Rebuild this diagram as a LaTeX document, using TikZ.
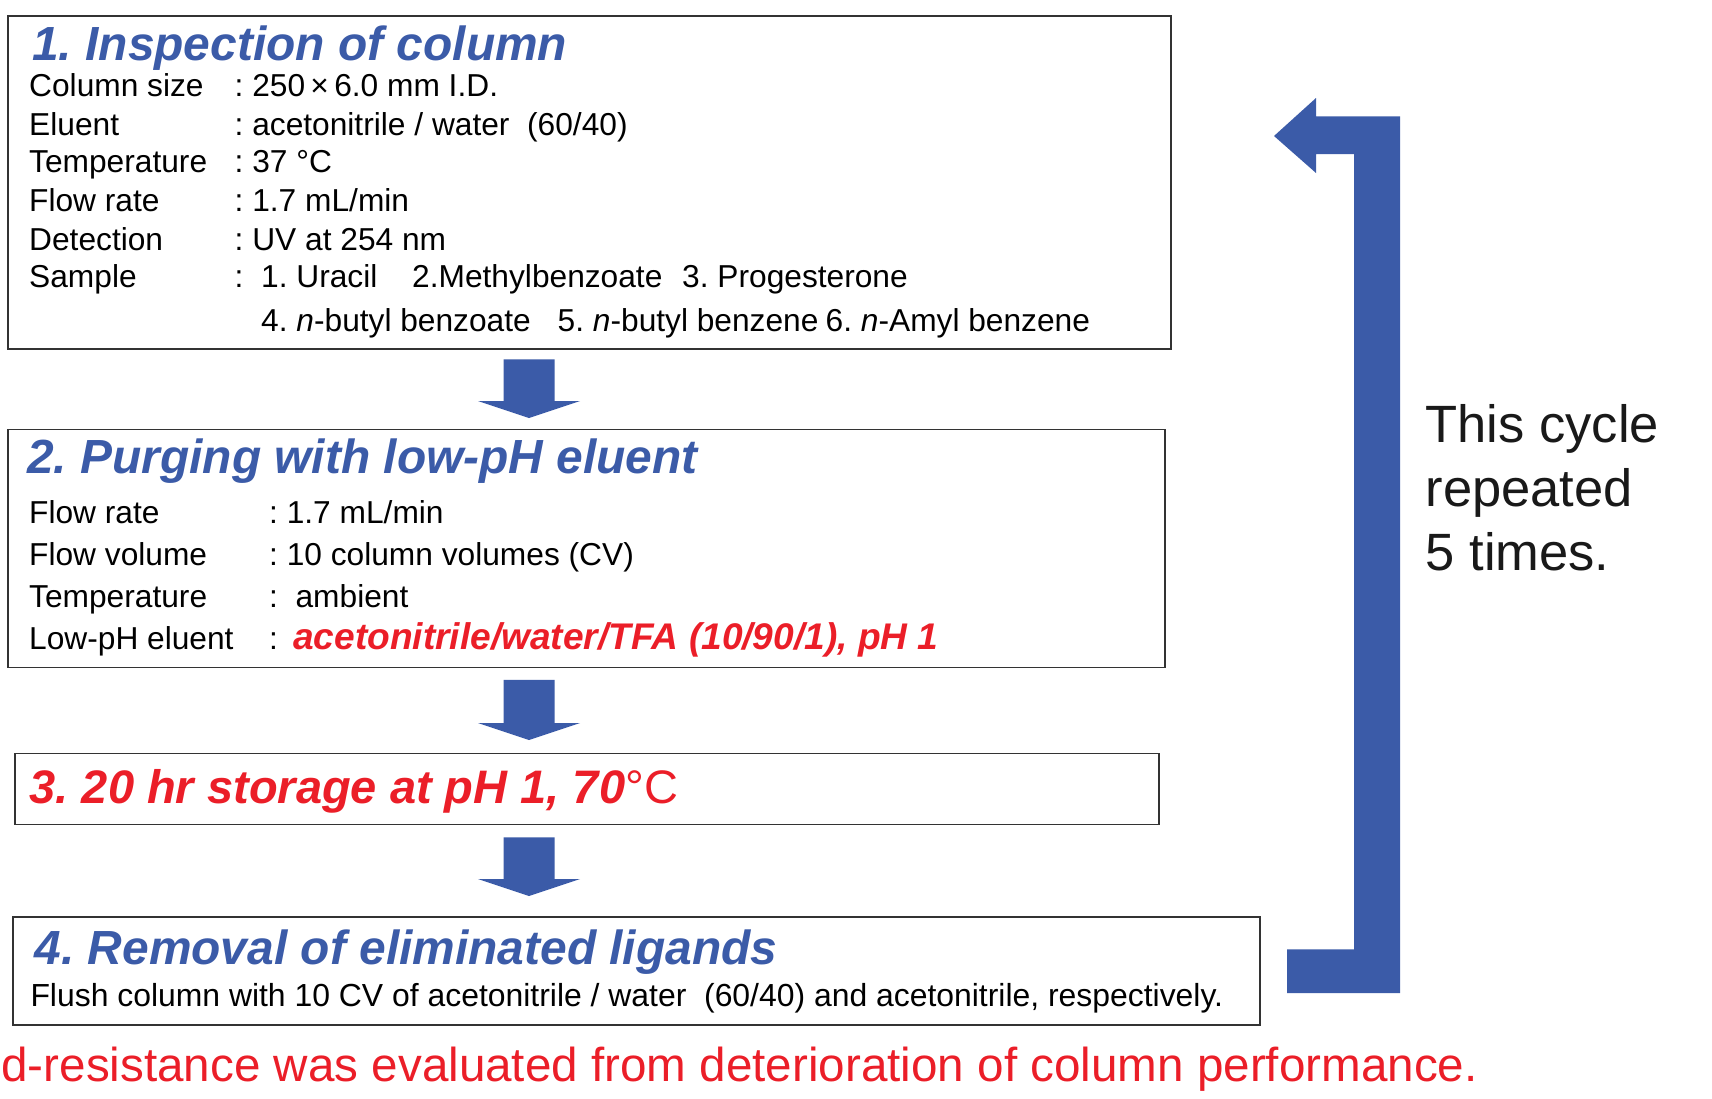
\documentclass[tikz,border=0pt]{standalone}
\usepackage{fontspec}
\setmainfont{Liberation Sans}
\usetikzlibrary{calc}
\frenchspacing
\definecolor{stepblue}{RGB}{59,91,168}
\definecolor{stepred}{RGB}{235,30,40}
\tikzset{
    stepbox/.style={draw=black!80, line width=1.8pt, anchor=north west, inner sep=0pt},
    steptitle/.style={anchor=base west, inner sep=0pt, text=stepblue,
        font=\fontsize{47.9}{52}\selectfont\bfseries\itshape},
    redtitle/.style={steptitle, text=stepred, font=\fontsize{47}{52}\selectfont\bfseries\itshape},
    itemtext/.style={anchor=base west, inner sep=0pt, font=\fontsize{31.7}{36}\selectfont},
    redvalue/.style={anchor=base west, inner sep=0pt, text=stepred,
        font=\fontsize{37.1}{40}\selectfont\bfseries\itshape},
    cycletext/.style={anchor=base west, inner sep=0pt, text=black!90,
        font=\fontsize{52.5}{64}\selectfont},
    bottomnote/.style={anchor=base east, inner sep=0pt, text=stepred,
        font=\fontsize{47.6}{52}\selectfont}
}
% block arrow from #1 down to #2
\newcommand{\blockarrow}[2]{%
    \fill[stepblue] let \p1=#1, \p2=#2 in
        (\x1-25.5pt,\y1) -- (\x1+25.5pt,\y1) -- (\x1+25.5pt,\y2+17pt)
        -- (\x1+51pt,\y2+17pt) -- (\x2,\y2) -- (\x1-51pt,\y2+17pt)
        -- (\x1-25.5pt,\y2+17pt) -- cycle;
}

\begin{document}
\begin{tikzpicture}[x=1pt,y=-1pt]
    \useasboundingbox (0,0) rectangle (1712,1098);
    \coordinate (ax) at (529,0);

    % boxes
    \node[stepbox, minimum width=1163, minimum height=333] (box1) at (7,15) {};
    \node[stepbox, minimum width=1157, minimum height=238] (box2) at (7,428.5) {};
    \node[stepbox, minimum width=1144, minimum height=71] (box3) at (14,752.5) {};
    \node[stepbox, minimum width=1247, minimum height=108] (box4) at (12,916) {};

    % 1
    \node[steptitle] (t1) at (32,60) {1. Inspection of column};
    \node[itemtext] (l11) at (29,96.7) {Column size};
    \node[itemtext] (v11) at (234.5,96.7) {: 250\,×\,6.0 mm I.D.};
    \node[itemtext] (l12) at (29,135) {Eluent};
    \node[itemtext] (v12) at (234.5,135) {: acetonitrile / water\ \ (60/40)};
    \node[itemtext] (l13) at (29,172.7) {Temperature};
    \node[itemtext] (v13) at (234.5,172.7) {: 37 °C};
    \node[itemtext] (l14) at (29,211.7) {Flow rate};
    \node[itemtext] (v14) at (234.5,211.7) {: 1.7 mL/min};
    \node[itemtext] (l15) at (29,250) {Detection};
    \node[itemtext] (v15) at (234.5,250) {: UV at 254 nm};
    \node[itemtext] (l16) at (29,287.3) {Sample};
    \node[itemtext] (v16) at (234.5,287.3) {:};
    \node[itemtext] (s1) at (261,287.3) {1. Uracil};
    \node[itemtext] (s2) at (412,287.3) {2.Methylbenzoate};
    \node[itemtext] (s3) at (682,287.3) {3. Progesterone};
    \node[itemtext] (s4) at (261,331.7) {4. \textit{n}-butyl benzoate};
    \node[itemtext] (s5) at (557.5,331.7) {5. \textit{n}-butyl benzene};
    \node[itemtext] (s6) at (825.5,331.7) {6. \textit{n}-Amyl benzene};

    % 2
    \node[steptitle] (t2) at (27,473.3) {2. Purging with low-pH eluent};
    \node[itemtext] (l21) at (29,523.3) {Flow rate};
    \node[itemtext] (v21) at (269,523.3) {: 1.7 mL/min};
    \node[itemtext] (l22) at (29,565.7) {Flow volume};
    \node[itemtext] (v22) at (269,565.7) {: 10 column volumes (CV)};
    \node[itemtext] (l23) at (29,607.3) {Temperature};
    \node[itemtext] (v23) at (269,607.3) {:\ \ ambient};
    \node[itemtext] (l24) at (29,649.3) {Low-pH eluent};
    \node[itemtext] (v24) at (269,649.3) {:};
    \node[redvalue] (r24) at (293,649.3) {acetonitrile/water/TFA (10/90/1), pH 1};

    % 3
    \node[redtitle] (t3) at (29.5,803.3) {3. 20 hr storage at pH 1, 70{\mdseries\upshape °C}};

    % 4
    \node[steptitle] (t4) at (34.5,964) {4. Removal of eliminated ligands};
    \node[itemtext, font=\fontsize{31.9}{36}\selectfont] (l41) at (30.3,1006.7)
        {Flush column with 10 CV of acetonitrile / water\ \ (60/40) and acetonitrile, respectively.};

    \node[bottomnote] (note) at (1478,1081.7) {d-resistance was evaluated from deterioration of column performance.};

    % arrows between steps
    \blockarrow{($(box1.south -| ax)+(0,9.5)$)}{($(box2.north -| ax)+(0,-10.5)$)}
    \blockarrow{($(box2.south -| ax)+(0,11.5)$)}{($(box3.north -| ax)+(0,-12.5)$)}
    \blockarrow{($(box3.south -| ax)+(0,12)$)}{($(box4.north -| ax)+(0,-20)$)}

    % repeat bracket
    \fill[stepblue] (1274,136) -- (1316,98) -- (1316,116.4) -- (1400,116.4)
        -- (1400,993) -- (1287,993) -- (1287,949.3) -- (1354,949.3)
        -- (1354,154) -- (1316,154) -- (1316,173) -- cycle;
    \node[cycletext] (c1) at (1425.5,442) {This cycle};
    \node[cycletext] (c2) at (1425.5,506) {repeated};
    \node[cycletext] (c3) at (1425.5,570) {5 times.};
\end{tikzpicture}
\end{document}
